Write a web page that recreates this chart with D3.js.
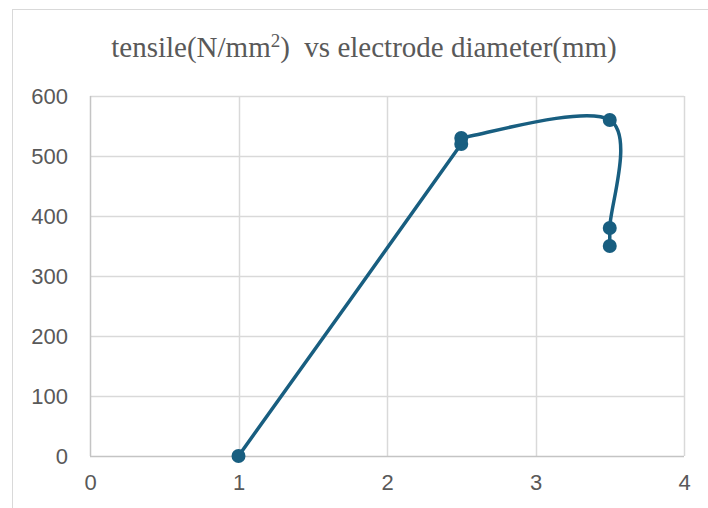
<!DOCTYPE html>
<html>
<head>
<meta charset="utf-8">
<script src="https://cdn.jsdelivr.net/npm/d3@7"></script>
<style>
  html, body { margin: 0; padding: 0; background: #ffffff; }
  svg { display: block; }
</style>
</head>
<body>
<div id="chart"></div>
<script>
// Electrode diameter (mm) and tensile strength (N/mm²), in plotting order
const diameter = [1, 2.5, 2.5, 3.5, 3.5, 3.5];
const tensile = [0, 520, 530, 560, 380, 350];

const xTicks = [0, 1, 2, 3, 4];
const yTicks = [0, 100, 200, 300, 400, 500, 600];

const W = 708, H = 508;
const plot = { left: 90, right: 684, top: 96, bottom: 456 };

const svg = d3.select("#chart").append("svg")
  .attr("width", W).attr("height", H);

// chart area frame
svg.append("rect")
  .attr("x", 12.5).attr("y", 9.5)
  .attr("width", 720).attr("height", 520)
  .attr("fill", "#ffffff")
  .attr("stroke", "#d9d9d9").attr("stroke-width", 1);

const x = d3.scaleLinear().domain([0, 4]).range([plot.left, plot.right]);
const y = d3.scaleLinear().domain([0, 600]).range([plot.bottom, plot.top]);

// gridlines
svg.append("g").selectAll("line.h")
  .data(yTicks.filter(d => d > 0))
  .join("line")
  .attr("x1", plot.left).attr("x2", plot.right)
  .attr("y1", d => Math.round(y(d)) + 0.5).attr("y2", d => Math.round(y(d)) + 0.5)
  .attr("stroke", "#d9d9d9").attr("stroke-width", 1.5);

svg.append("g").selectAll("line.v")
  .data(xTicks.filter(d => d > 0))
  .join("line")
  .attr("y1", plot.top).attr("y2", plot.bottom)
  .attr("x1", d => Math.round(x(d)) + 0.5).attr("x2", d => Math.round(x(d)) + 0.5)
  .attr("stroke", "#d9d9d9").attr("stroke-width", 1.5);

// axis lines
svg.append("line")
  .attr("x1", plot.left).attr("x2", plot.right)
  .attr("y1", plot.bottom + 0.5).attr("y2", plot.bottom + 0.5)
  .attr("stroke", "#c4c4c4").attr("stroke-width", 1.5);
svg.append("line")
  .attr("x1", plot.left + 0.5).attr("x2", plot.left + 0.5)
  .attr("y1", plot.top).attr("y2", plot.bottom)
  .attr("stroke", "#c4c4c4").attr("stroke-width", 1.5);

// tick labels via d3 axes (lines hidden)
const xAxis = svg.append("g")
  .attr("transform", `translate(0,${plot.bottom})`)
  .call(d3.axisBottom(x).tickValues(xTicks).tickFormat(d3.format("d")).tickSize(0).tickPadding(18));
const yAxis = svg.append("g")
  .attr("transform", `translate(${plot.left},0)`)
  .call(d3.axisLeft(y).tickValues(yTicks).tickFormat(d3.format("d")).tickSize(0).tickPadding(22));

[xAxis, yAxis].forEach(g => {
  g.select(".domain").remove();
  g.selectAll("text")
    .attr("fill", "#595959")
    .style("font-family", "'Liberation Sans', Arial, sans-serif")
    .style("font-size", "22px");
});

// title
const title = svg.append("text")
  .attr("x", 364).attr("y", 57)
  .attr("text-anchor", "middle")
  .attr("fill", "#595959")
  .style("font-family", "'Liberation Serif', 'Times New Roman', serif")
  .style("font-size", "29px");
title.append("tspan").text("tensile(N/mm");
title.append("tspan").attr("dy", -10).style("font-size", "19px").text("2");
title.append("tspan").attr("dy", 10).text(")\u00a0\u00a0vs electrode diameter(mm)");

// Smoothed-line curve: Catmull-Rom tangents (1/6 of the neighbour chord),
// with each control handle capped at the length of its own segment so that
// very short segments do not loop back on themselves.
function smoothCapped(context) {
  let pts = [];
  return {
    areaStart() {}, areaEnd() {},
    lineStart() { pts = []; },
    point(px, py) { pts.push([+px, +py]); },
    lineEnd() {
      if (!pts.length) return;
      context.moveTo(pts[0][0], pts[0][1]);
      for (let i = 0; i < pts.length - 1; i++) {
        const p0 = pts[i - 1] || pts[i];
        const p1 = pts[i];
        const p2 = pts[i + 1];
        const p3 = pts[i + 2] || pts[i + 1];
        const L = Math.hypot(p2[0] - p1[0], p2[1] - p1[1]);
        let t1 = [(p2[0] - p0[0]) / 6, (p2[1] - p0[1]) / 6];
        let t2 = [(p3[0] - p1[0]) / 6, (p3[1] - p1[1]) / 6];
        const cap = v => {
          const m = Math.hypot(v[0], v[1]);
          return m > L && m > 0 ? [v[0] * L / m, v[1] * L / m] : v;
        };
        t1 = cap(t1); t2 = cap(t2);
        context.bezierCurveTo(
          p1[0] + t1[0], p1[1] + t1[1],
          p2[0] - t2[0], p2[1] - t2[1],
          p2[0], p2[1]);
      }
    }
  };
}

// series line and markers
const pts = diameter.map((d, i) => [d, tensile[i]]);
const color = "#185e80";

svg.append("path")
  .datum(pts)
  .attr("fill", "none")
  .attr("stroke", color)
  .attr("stroke-width", 3.5)
  .attr("stroke-linejoin", "round")
  .attr("d", d3.line().x(d => x(d[0])).y(d => y(d[1])).curve(smoothCapped));

svg.append("g").selectAll("circle")
  .data(pts)
  .join("circle")
  .attr("cx", d => x(d[0]))
  .attr("cy", d => y(d[1]))
  .attr("r", 7)
  .attr("fill", color);
</script>
</body>
</html>
